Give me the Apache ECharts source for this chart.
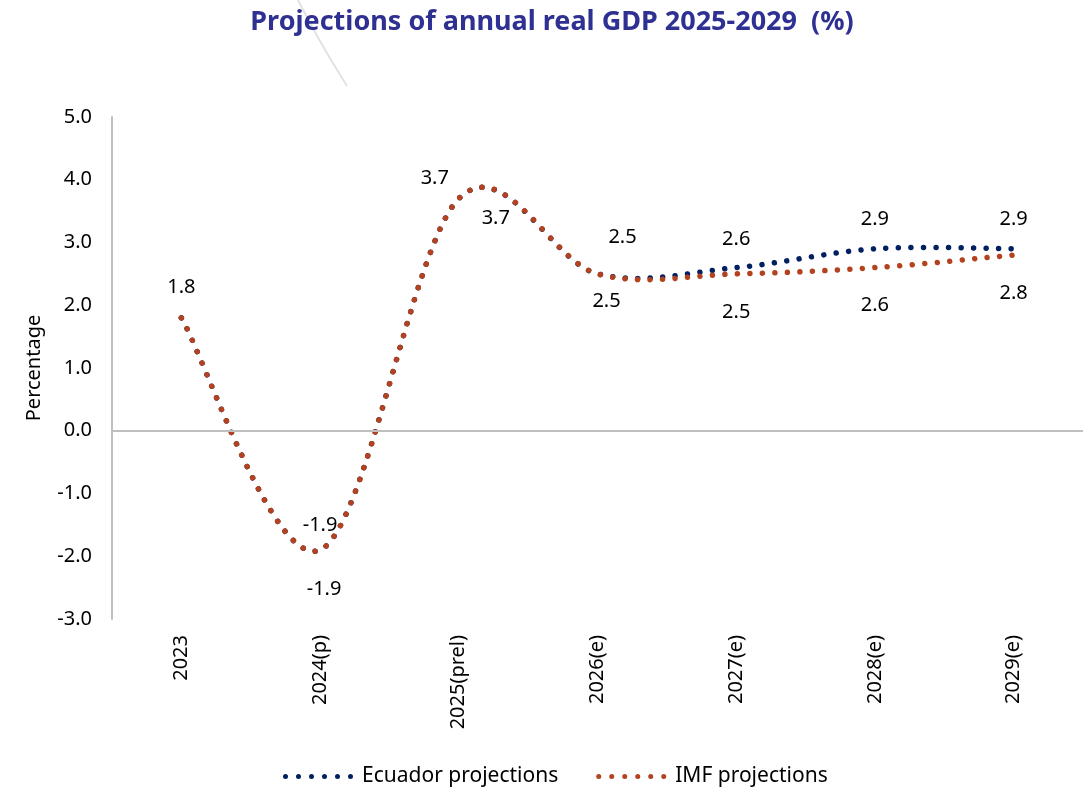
<!DOCTYPE html>
<html>
<head>
<meta charset="utf-8">
<script src="https://cdn.jsdelivr.net/npm/echarts@6/dist/echarts.min.js"></script>
<style>
html,body{margin:0;padding:0;background:#fff}
#chart{width:1091px;height:789px}
</style>
</head>
<body>
<div id="chart"></div>
<script>
// data
var years = ['2023', '2024(p)', '2025(prel)', '2026(e)', '2027(e)', '2028(e)', '2029(e)']
var ecuador = [1.8, -1.9, 3.7, 2.5, 2.6, 2.9, 2.9]
var imf = [1.8, -1.9, 3.7, 2.5, 2.5, 2.6, 2.8]
var yTicks = [-3, -2, -1, 0, 1, 2, 3, 4, 5]

// label offsets (px) per point, styling only
var ecuadorOffsets = [[0, -31], [0, -25], [-24, -20], [25, -37], [0, -28], [0, -29], [0, -29]]
var imfOffsets = [null, [4, 39], [37, 20], [9, 27], [0, 38], [0, 38], [0, 38]]

var font = 'Noto Sans'
var navy = '#002060'
var rust = '#B5421F'

// six dots for the legend icon
var dotsIcon = 'path://'
for (var k = 0; k < 6; k++) {
	var cx = 2.5 + k * 13
	dotsIcon += 'M' + (cx - 2.5) + ',2.5a2.5,2.5 0 1,0 5,0a2.5,2.5 0 1,0 -5,0'
}

// excel-like smoothed line (catmull-rom through the points), dotted
function curve(values, offsets, color) {
	return function (params, api) {
		if (params.dataIndex !== 0) return null
		var pts = values.map(function (v, i) { return api.coord([i, v]) })
		var n = pts.length
		var d = 'M' + pts[0][0] + ',' + pts[0][1]
		for (var i = 0; i < n - 1; i++) {
			var p0 = pts[Math.max(i - 1, 0)], p1 = pts[i], p2 = pts[i + 1], p3 = pts[Math.min(i + 2, n - 1)]
			var c1 = [p1[0] + (p2[0] - p0[0]) / 6, p1[1] + (p2[1] - p0[1]) / 6]
			var c2 = [p2[0] - (p3[0] - p1[0]) / 6, p2[1] - (p3[1] - p1[1]) / 6]
			d += 'C' + c1[0] + ',' + c1[1] + ',' + c2[0] + ',' + c2[1] + ',' + p2[0] + ',' + p2[1]
		}
		var children = [{
			type: 'path',
			shape: { pathData: d },
			style: { fill: null, stroke: color, lineWidth: 5.5, lineDash: [0.01, 12.5], lineCap: 'round' }
		}]
		values.forEach(function (v, i) {
			var off = offsets[i]
			if (!off) return
			children.push({
				type: 'text',
				x: pts[i][0] + off[0],
				y: pts[i][1] + off[1],
				style: {
					text: v.toFixed(1), align: 'center', verticalAlign: 'middle',
					fontFamily: font, fontSize: 20, fill: '#000'
				}
			})
		})
		return { type: 'group', children: children }
	}
}

var myChart = echarts.init(document.getElementById('chart'))
var option = {
	animation: false,
	title: {
		text: 'Projections of annual real GDP 2025-2029  (%)',
		left: 547,
		textAlign: 'center',
		top: 4,
		textStyle: { fontFamily: font, fontSize: 27, fontWeight: 'bold', color: '#2E3192' }
	},
	grid: { left: 112, right: 8, top: 117, bottom: 170 },
	legend: {
		top: 761,
		left: 278,
		icon: dotsIcon,
		itemWidth: 70,
		itemHeight: 5,
		itemGap: 38,
		textStyle: { fontFamily: font, fontSize: 21, color: '#000', padding: [0, 0, 0, 4] },
		data: ['Ecuador projections', 'IMF projections']
	},
	xAxis: {
		type: 'category',
		data: years,
		boundaryGap: true,
		axisLine: { show: false },
		axisTick: { show: false },
		axisLabel: { rotate: 90, margin: 16, fontFamily: font, fontSize: 20, color: '#000' }
	},
	yAxis: {
		type: 'value',
		min: yTicks[0],
		max: yTicks[yTicks.length - 1],
		interval: 1,
		name: 'Percentage',
		nameLocation: 'middle',
		nameGap: 68,
		nameTextStyle: { fontFamily: font, fontSize: 20, color: '#000' },
		axisLine: { show: true, lineStyle: { color: '#BFBFBF', width: 2 } },
		axisTick: { show: false },
		splitLine: { show: false },
		axisLabel: {
			margin: 20, fontFamily: font, fontSize: 20, color: '#000',
			formatter: function (v) { return v.toFixed(1) }
		}
	},
	series: [
		{
			name: 'Ecuador projections',
			type: 'custom',
			z: 2,
			itemStyle: { color: navy },
			renderItem: curve(ecuador, ecuadorOffsets, navy),
			data: ecuador.map(function (v, i) { return [i, v] }),
			markLine: {
				silent: true,
				symbol: 'none',
				label: { show: false },
				lineStyle: { color: '#BFBFBF', type: 'solid', width: 2 },
				data: [{ yAxis: 0 }]
			}
		},
		{
			name: 'IMF projections',
			type: 'custom',
			z: 3,
			itemStyle: { color: rust },
			renderItem: curve(imf, imfOffsets, rust),
			data: imf.map(function (v, i) { return [i, v] })
		}
	],
	graphic: [{
		type: 'bezierCurve',
		shape: { x1: 298, y1: 0, cpx1: 318, cpy1: 40, x2: 347, y2: 86 },
		style: { stroke: '#E2E2E2', lineWidth: 2, fill: null },
		silent: true
	}]
}
myChart.setOption(option)
window.onresize = function () {
	myChart.resize()
}
</script>
</body>
</html>
